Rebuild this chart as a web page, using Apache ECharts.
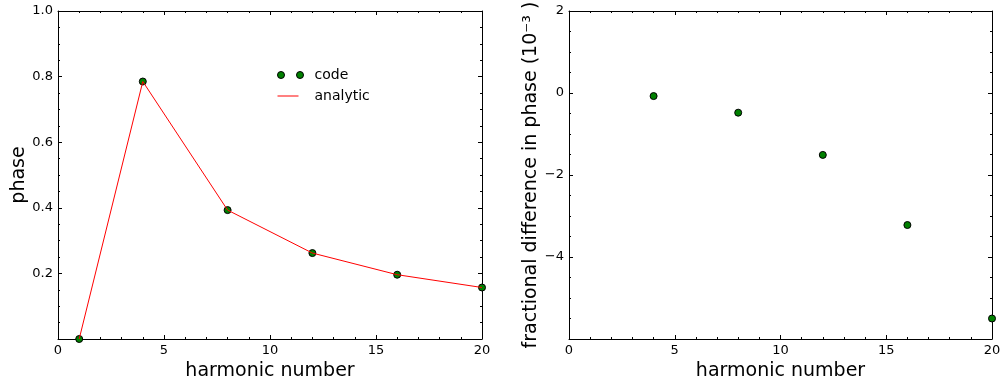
<!DOCTYPE html>
<html>
<head>
<meta charset="utf-8">
<script src="https://cdn.jsdelivr.net/npm/echarts@6/dist/echarts.min.js"></script>
<style>
  html, body { margin: 0; padding: 0; background: #fff; }
  #chart { width: 1003px; height: 384px; }
</style>
</head>
<body>
<div id="chart"></div>
<script>
// Harmonic numbers and the phase from the code vs. the analytic expectation
const harmonics = [1, 4, 8, 12, 16, 20];
const phaseCode = [0.0, 0.785, 0.393, 0.262, 0.196, 0.157];
const phaseAnalytic = [0.0, 0.785, 0.393, 0.262, 0.196, 0.157];

// Fractional difference in phase (units of 1e-3)
const diffHarmonics = [4, 8, 12, 16, 20];
const fracDiff = [-0.075, -0.48, -1.51, -3.22, -5.5];

const FONT = 'DejaVu Sans';
const TICK = '#000';

function pairs(xs, ys) { return xs.map((x, i) => [x, ys[i]]); }

function frameAxis(gridIndex, position, opts, showLabel) {
  return Object.assign({
    type: 'value',
    gridIndex: gridIndex,
    position: position,
    axisLine: { show: true, onZero: false, lineStyle: { color: TICK, width: 1 } },
    axisTick: { show: true, inside: true, length: 4, lineStyle: { color: TICK } },
    minorTick: { show: true, length: 2, lineStyle: { color: TICK } },
    splitLine: { show: false },
    axisLabel: { show: showLabel, color: '#000', fontFamily: FONT, fontSize: 13, margin: 5 },
    nameTextStyle: { color: '#000', fontFamily: FONT, fontSize: 19 }
  }, opts);
}

const xCommon = { min: 0, max: 20, interval: 5 };
const yLeft = { min: 0, max: 1.0, interval: 0.2, minorTick: { show: true, splitNumber: 4, length: 2, lineStyle: { color: TICK } } };
const yRight = { min: -6, max: 2, interval: 2, minorTick: { show: true, splitNumber: 4, length: 2, lineStyle: { color: TICK } } };

const xLabel = { show: true, color: '#000', fontFamily: FONT, fontSize: 13, margin: 5 };

const chart = echarts.init(document.getElementById('chart'));
chart.setOption({
  animation: false,
  backgroundColor: '#fff',
  grid: [
    { left: 58, right: 521, top: 11, bottom: 45, outerBoundsMode: 'none', containLabel: false },
    { left: 569, right: 11, top: 11, bottom: 45, outerBoundsMode: 'none', containLabel: false }
  ],
  xAxis: [
    frameAxis(0, 'bottom', Object.assign({}, xCommon, {
      name: 'harmonic number', nameLocation: 'middle', nameGap: 15, axisLabel: xLabel
    }), true),
    frameAxis(0, 'top', xCommon, false),
    frameAxis(1, 'bottom', Object.assign({}, xCommon, {
      name: 'harmonic number', nameLocation: 'middle', nameGap: 15, axisLabel: xLabel
    }), true),
    frameAxis(1, 'top', xCommon, false)
  ],
  yAxis: [
    frameAxis(0, 'left', Object.assign({}, yLeft, {
      name: 'phase', nameLocation: 'middle', nameGap: 28,
      axisLabel: { show: true, showMinLabel: false, color: '#000', fontFamily: FONT, fontSize: 13, margin: 5,
        formatter: v => v.toFixed(1) }
    }), true),
    frameAxis(0, 'right', yLeft, false),
    frameAxis(1, 'left', Object.assign({}, yRight, {
      name: 'fractional difference in phase (10\u207B\u00B3 )', nameLocation: 'middle', nameGap: 28,
      axisLabel: { show: true, showMinLabel: false, color: '#000', fontFamily: FONT, fontSize: 13, margin: 5,
        formatter: v => (v < 0 ? '\u2212' + Math.abs(v) : String(v)) }
    }), true),
    frameAxis(1, 'right', yRight, false)
  ],
  legend: {
    left: 272, top: 63, orient: 'vertical', itemGap: 7,
    itemWidth: 26, itemHeight: 7,
    textStyle: { color: '#000', fontFamily: FONT, fontSize: 14, padding: [0, 0, 0, 6] },
    data: [
      { name: 'code', icon: 'path://M0,3.5a3.5,3.5 0 1,0 7,0a3.5,3.5 0 1,0 -7,0M19,3.5a3.5,3.5 0 1,0 7,0a3.5,3.5 0 1,0 -7,0',
        itemStyle: { color: '#008000', borderColor: '#000', borderWidth: 1 } },
      { name: 'analytic', icon: 'path://M0,0M26,7M0,3H21V4H0Z',
        itemStyle: { color: '#ff0000', borderWidth: 0 } }
    ]
  },
  series: [
    {
      name: 'code', type: 'scatter', xAxisIndex: 0, yAxisIndex: 0,
      data: pairs(harmonics, phaseCode),
      symbol: 'circle', symbolSize: 7,
      itemStyle: { color: '#008000', borderColor: '#000', borderWidth: 1, opacity: 1 },
      z: 2
    },
    {
      name: 'analytic', type: 'line', xAxisIndex: 0, yAxisIndex: 0,
      data: pairs(harmonics, phaseAnalytic),
      showSymbol: false, symbol: 'none',
      lineStyle: { color: '#ff0000', width: 1 },
      itemStyle: { color: '#ff0000' },
      z: 3
    },
    {
      name: 'difference', type: 'scatter', xAxisIndex: 2, yAxisIndex: 2,
      data: pairs(diffHarmonics, fracDiff),
      symbol: 'circle', symbolSize: 7,
      itemStyle: { color: '#008000', borderColor: '#000', borderWidth: 1, opacity: 1 }
    }
  ]
});
</script>
</body>
</html>
